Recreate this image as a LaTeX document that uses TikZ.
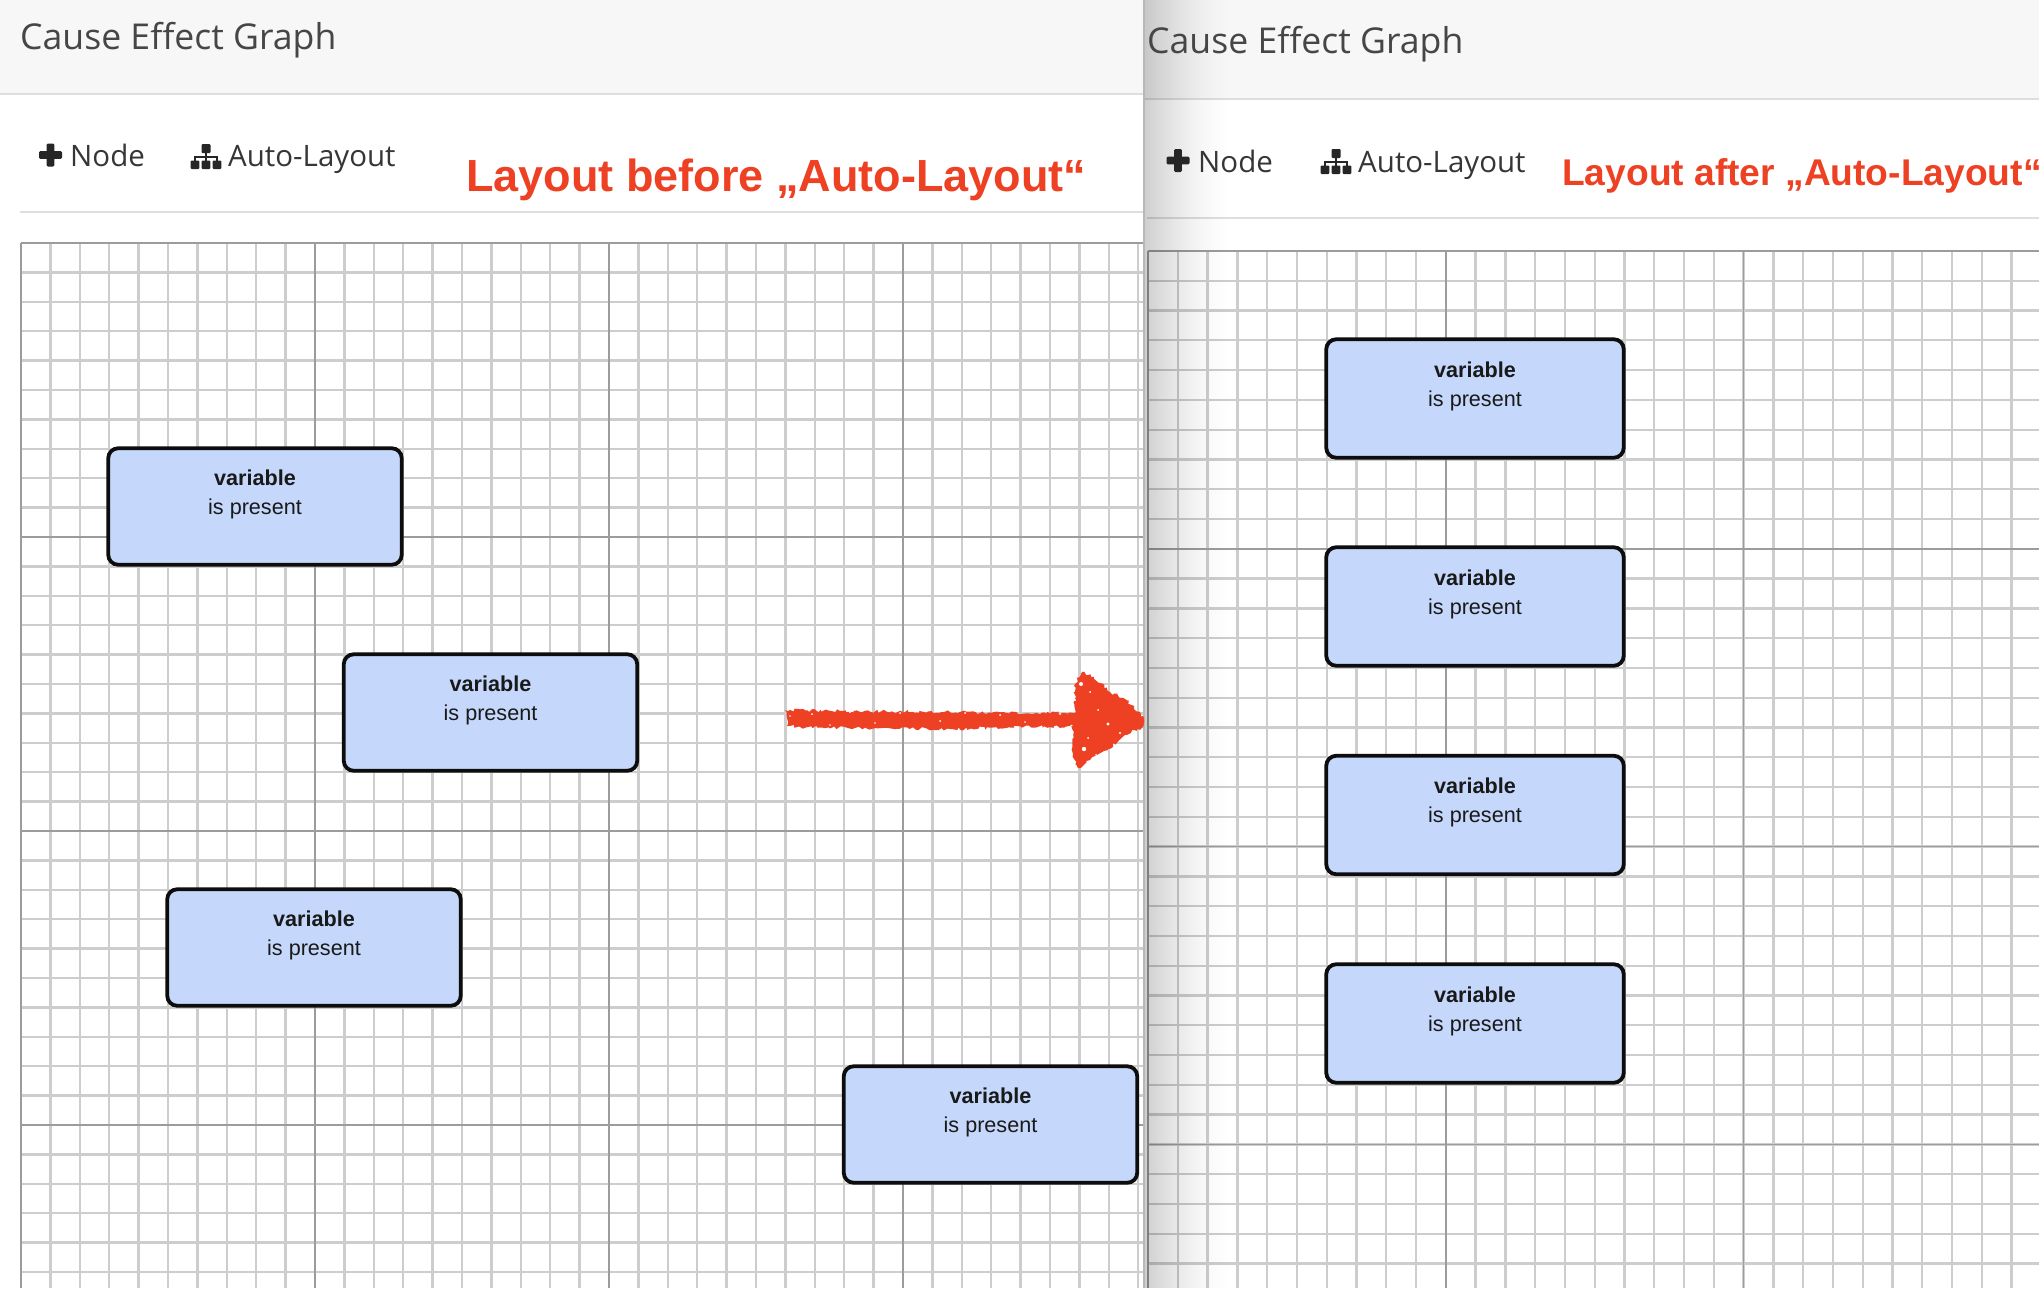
\documentclass[tikz,border=0pt]{standalone}
\usepackage{fontspec}
\setmainfont{Liberation Sans}
\newfontfamily\uifont{Open Sans}
\usetikzlibrary{decorations.pathmorphing}
\definecolor{redtxt}{HTML}{EE4023}
\definecolor{boxfill}{HTML}{C5D8FB}
\definecolor{minorline}{HTML}{CDCDCD}
\definecolor{majorline}{HTML}{9C9C9C}
\definecolor{headbg}{HTML}{F7F7F7}
\definecolor{sepline}{HTML}{DEDEDE}
\definecolor{uitxt}{HTML}{363636}
\tikzset{
  x=1pt,y=-1pt,
  minorgrid/.style={draw=minorline,line width=2.3pt},
  majorgrid/.style={draw=majorline,line width=1.6pt},
  sep/.style={draw=sepline,line width=2pt},
  varbox/.style={draw=black!95,fill=boxfill,line width=3.8pt,rounded corners=10pt,
    minimum height=116.5pt,inner sep=0pt,align=center,
    font=\fontsize{21.6}{29}\selectfont,text=black!90},
  leftbox/.style={varbox,minimum width=293.5pt},
  rightbox/.style={varbox,minimum width=297.5pt,minimum height=118.5pt},
  uititle/.style={anchor=base west,inner sep=0pt,font=\uifont\fontsize{35.6}{40}\selectfont,text=uitxt!92!white},
  uibtn/.style={anchor=base west,inner sep=0pt,font=\uifont\fontsize{29.5}{34}\selectfont,text=uitxt},
  redlabel/.style={anchor=base west,inner sep=0pt,text=redtxt},
  icon/.style={fill=black!85,draw=none},
}
\newcommand{\vartext}{{\bfseries variable}\\is present\\\mbox{}}
\begin{document}
\begin{tikzpicture}
\useasboundingbox (0,0) rectangle (2039,1288);
\clip (0,0) rectangle (2039,1288);
\fill[white] (0,0) rectangle (2039,1288);
% left panel
\fill[headbg] (0,0) rectangle (1143,93);
\draw[sep] (0,94) -- (1143,94);
\draw[sep] (20,212) -- (1143,212);
\foreach \i in {1,...,38} \draw[minorgrid] ({21+29.4*\i},243) -- ({21+29.4*\i},1288);
\foreach \i in {1,...,35} \draw[minorgrid] (21,{243+29.4*\i}) -- (1143,{243+29.4*\i});
\foreach \i in {0,...,3} \draw[majorgrid] ({21+294*\i},243) -- ({21+294*\i},1288);
\foreach \i in {0,...,3} \draw[majorgrid] (21,{243+294*\i}) -- (1143,{243+294*\i});
% right panel
\fill[white] (1143,0) rectangle (2039,1288);
\fill[headbg] (1143,0) rectangle (2039,98);
\draw[sep] (1143,99) -- (2039,99);
\draw[sep] (1147,218) -- (2039,218);
\foreach \i in {1,...,29} \draw[minorgrid] ({1148+29.78*\i},251) -- ({1148+29.78*\i},1288);
\foreach \i in {1,...,34} \draw[minorgrid] (1148,{251+29.78*\i}) -- (2039,{251+29.78*\i});
\foreach \i in {0,...,2} \draw[majorgrid] ({1148+297.8*\i},251) -- ({1148+297.8*\i},1288);
\foreach \i in {0,...,3} \draw[majorgrid] (1148,{251+297.8*\i}) -- (2039,{251+297.8*\i});
% shadow of the right panel on its left edge
\foreach \i in {0,...,44}{
  \pgfmathsetmacro{\shadeop}{0.19*(1-\i/45)^1.7}
  \fill[black,opacity=\shadeop] ({1144+2*\i},0) rectangle ({1146+2*\i},1288);
}
\draw[draw=black!28,line width=2pt] (1144,0) -- (1144,1288);
% headers
\node[uititle] (titleL) at (20,49) {Cause Effect Graph};
\node[uititle] (titleR) at (1147,53) {Cause Effect Graph};
\node[uibtn] (nodeL) at (70,166) {Node};
\node[uibtn] (autoL) at (228,166) {Auto-Layout};
\node[uibtn] (nodeR) at (1198,172) {Node};
\node[uibtn] (autoR) at (1358,172) {Auto-Layout};
\node[redlabel,font=\fontsize{45}{50}\selectfont\bfseries] (labL) at (466,191) {Layout before „Auto-Layout“};
\node[redlabel,font=\fontsize{37.2}{42}\selectfont\bfseries] (labR) at (1562,185) {Layout after „Auto-Layout“};
% icons: plus
\foreach \cx/\cy in {50.5/155,1178/160.5}{
  \fill[icon,rounded corners=1.2pt] (\cx-11.5,\cy-3.8) rectangle (\cx+11.5,\cy+3.8);
  \fill[icon,rounded corners=1.2pt] (\cx-3.8,\cy-11.5) rectangle (\cx+3.8,\cy+11.5);
}
% icons: sitemap
\foreach \cx/\cy in {206/144,1336/149}{
  \fill[icon,rounded corners=1pt] (\cx-4.5,\cy) rectangle (\cx+4.5,\cy+9);
  \draw[black!85,line width=1.6pt] (\cx,\cy+9) -- (\cx,\cy+17);
  \draw[black!85,line width=1.6pt] (\cx-11,\cy+17) -- (\cx-11,\cy+13) -- (\cx+11,\cy+13) -- (\cx+11,\cy+17);
  \foreach \d in {-11,0,11}
    \fill[icon,rounded corners=1pt] (\cx+\d-4.3,\cy+16.5) rectangle (\cx+\d+4.3,\cy+25);
}
% boxes left
\node[leftbox] (L1) at (255,506.5) {\vartext};
\node[leftbox] (L2) at (490.5,712.5) {\vartext};
\node[leftbox] (L3) at (314,947.5) {\vartext};
\node[leftbox] (L4) at (990.5,1124.5) {\vartext};
% boxes right
\node[rightbox] (R1) at (1475,398.5) {\vartext};
\node[rightbox] (R2) at (1475,606.5) {\vartext};
\node[rightbox] (R3) at (1475,815) {\vartext};
\node[rightbox] (R4) at (1475,1023.5) {\vartext};
% scribbled arrow
\pgfmathsetseed{42}
\fill[redtxt,decorate,decoration={random steps,segment length=2.5pt,amplitude=1.7pt}]
  (785,710) -- (840,711) -- (1075,713) -- (1074,686) -- (1082,672) -- (1094,677) -- (1110,692)
  -- (1125,699) -- (1143,716) -- (1143,727) -- (1125,735) -- (1108,749) -- (1090,760) -- (1078,768)
  -- (1073,755) -- (1073,726) -- (950,729) -- (800,727) -- (787,726) -- cycle;
\foreach \px/\py/\r in {1081/684/2,1084/749/2.2,1108/724/1.6,1090/692/1,1098/710/1,1075/700/1,
  1120/733/1.2,1096/755/1,900/713/1,812/714/1,1000/715/1,940/721/1,1060/714/1,1088/738/1,
  850/712/1,875/723/.9,965/713/1,1025/722/.9,1040/713/.9,830/725/.9,790/716/.9}
  \fill[white] (\px,\py) circle (\r);
\end{tikzpicture}
\end{document}
